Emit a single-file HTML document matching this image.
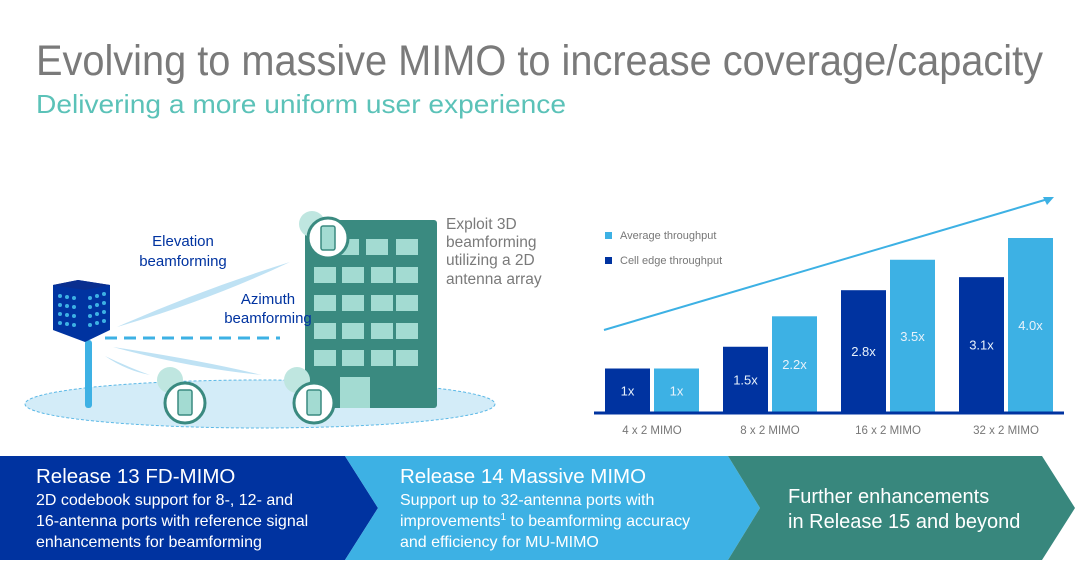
<!DOCTYPE html>
<html><head><meta charset="utf-8"><style>
html,body{margin:0;padding:0;background:#fff;}
svg{display:block;font-family:"Liberation Sans",Arial,sans-serif;}
</style></head><body>
<svg width="1091" height="581" viewBox="0 0 1091 581">
<text x="36" y="75" font-size="43" fill="#7a7a7a" textLength="1007" lengthAdjust="spacingAndGlyphs">Evolving to massive MIMO to increase coverage/capacity</text>
<text x="36" y="113" font-size="26" fill="#5bc2b8" textLength="530" lengthAdjust="spacingAndGlyphs">Delivering a more uniform user experience</text>

<g>
<ellipse cx="260" cy="404" rx="235" ry="24" fill="#d3ecf8" stroke="#5bb8e6" stroke-dasharray="3,2"/>
<rect x="85" y="340" width="7" height="68" fill="#3db1e4" rx="3"/>
<polygon points="53,285 78,280 110,285 110,330 85,342 53,330" fill="#0033a0"/>
<polygon points="53,285 78,280 110,285 85,290" fill="#0a2f8f"/>
<g fill="#3db1e4">
<circle cx="60" cy="296" r="2"/><circle cx="67" cy="297" r="2"/><circle cx="74" cy="298" r="2"/><circle cx="60" cy="305" r="2"/><circle cx="67" cy="306" r="2"/><circle cx="74" cy="307" r="2"/><circle cx="60" cy="314" r="2"/><circle cx="67" cy="315" r="2"/><circle cx="74" cy="316" r="2"/><circle cx="60" cy="323" r="2"/><circle cx="67" cy="324" r="2"/><circle cx="74" cy="325" r="2"/>
<circle cx="90" cy="298" r="2"/><circle cx="97" cy="296" r="2"/><circle cx="104" cy="294" r="2"/><circle cx="90" cy="307" r="2"/><circle cx="97" cy="305" r="2"/><circle cx="104" cy="303" r="2"/><circle cx="90" cy="316" r="2"/><circle cx="97" cy="314" r="2"/><circle cx="104" cy="312" r="2"/><circle cx="90" cy="325" r="2"/><circle cx="97" cy="323" r="2"/><circle cx="104" cy="321" r="2"/>
</g>
<path d="M117,327 Q200,290 290,262 Q210,300 117,327Z" fill="#bfe2f4"/>
<path d="M113,347 Q200,360 262,375 Q190,368 113,347Z" fill="#bfe2f4"/>
<path d="M105,356 Q130,368 150,375 Q125,370 105,356Z" fill="#bfe2f4"/>
<line x1="105" y1="338" x2="280" y2="338" stroke="#3db1e4" stroke-width="3" stroke-dasharray="12,7"/>
<rect x="305" y="220" width="132" height="188" rx="3" fill="#3a8a80"/>
<g fill="#a3dbd2">
<rect x="337" y="239" width="22" height="16"/><rect x="366" y="239" width="22" height="16"/><rect x="396" y="239" width="22" height="16"/>
<rect x="314" y="267" width="22" height="16"/><rect x="342" y="267" width="22" height="16"/><rect x="371" y="267" width="22" height="16"/><rect x="396" y="267" width="22" height="16"/>
<rect x="314" y="295" width="22" height="16"/><rect x="342" y="295" width="22" height="16"/><rect x="371" y="295" width="22" height="16"/><rect x="396" y="295" width="22" height="16"/>
<rect x="314" y="323" width="22" height="16"/><rect x="342" y="323" width="22" height="16"/><rect x="371" y="323" width="22" height="16"/><rect x="396" y="323" width="22" height="16"/>
<rect x="314" y="350" width="22" height="16"/><rect x="342" y="350" width="22" height="16"/><rect x="371" y="350" width="22" height="16"/><rect x="396" y="350" width="22" height="16"/>
<rect x="340" y="377" width="30" height="31"/>
</g>
<g><circle cx="312" cy="224" r="13" fill="#bfe6e0"/><circle cx="328" cy="238" r="20" fill="#fff" stroke="#3a8a80" stroke-width="3"/><rect x="321" y="226" width="14" height="24" rx="2" fill="#a3dbd2" stroke="#3a8a80" stroke-width="1.5"/></g>
<g><circle cx="170" cy="380" r="13" fill="#bfe6e0"/><circle cx="185" cy="403" r="20" fill="#fff" stroke="#3a8a80" stroke-width="3"/><rect x="178" y="390" width="14" height="25" rx="2" fill="#a3dbd2" stroke="#3a8a80" stroke-width="1.5"/></g>
<g><circle cx="297" cy="380" r="13" fill="#bfe6e0"/><circle cx="314" cy="403" r="20" fill="#fff" stroke="#3a8a80" stroke-width="3"/><rect x="307" y="390" width="14" height="25" rx="2" fill="#a3dbd2" stroke="#3a8a80" stroke-width="1.5"/></g>
<text x="183" y="246" font-size="15" fill="#0033a0" text-anchor="middle">Elevation</text>
<text x="183" y="266" font-size="15" fill="#0033a0" text-anchor="middle">beamforming</text>
<text x="268" y="304" font-size="15" fill="#0033a0" text-anchor="middle">Azimuth</text>
<text x="268" y="323" font-size="15" fill="#0033a0" text-anchor="middle">beamforming</text>
<g font-size="15.5" fill="#7a7a7a">
<text x="446" y="229">Exploit 3D</text><text x="446" y="247">beamforming</text><text x="446" y="265">utilizing a 2D</text><text x="446" y="284">antenna array</text>
</g>
</g>

<g id="chart">
<line x1="604" y1="330" x2="1048" y2="199" stroke="#3db1e4" stroke-width="2"/>
<polygon points="1054,197 1043,197 1047,205" fill="#3db1e4"/>
<rect x="605" y="232" width="7" height="7" fill="#3db1e4"/>
<text x="620" y="239" font-size="11" fill="#777">Average throughput</text>
<rect x="605" y="257" width="7" height="7" fill="#0033a0"/>
<text x="620" y="264" font-size="11" fill="#777">Cell edge throughput</text>
<g id="bars"></g>
<line x1="594" y1="413" x2="1064" y2="413" stroke="#0033a0" stroke-width="3"/>
</g>

<g>
<polygon points="0,456 345,456 378,508 345,560 0,560" fill="#0033a0"/>
<polygon points="345,456 728,456 760,508 728,560 345,560 378,508" fill="#3db1e4"/>
<polygon points="728,456 1042,456 1075,508 1042,560 728,560 760,508" fill="#38877d"/>
<text x="36" y="483" font-size="20.5" fill="#fff">Release 13 FD-MIMO</text>
<g font-size="16" fill="#fff"><text x="36" y="505">2D codebook support for 8-, 12- and</text><text x="36" y="526">16-antenna ports with reference signal</text><text x="36" y="547">enhancements for beamforming</text></g>
<text x="400" y="483" font-size="20.5" fill="#fff">Release 14 Massive MIMO</text>
<g font-size="16" fill="#fff"><text x="400" y="505">Support up to 32-antenna ports with</text><text x="400" y="526">improvements<tspan font-size="10" dy="-6">1</tspan><tspan dy="6"> to beamforming accuracy</tspan></text><text x="400" y="547">and efficiency for MU-MIMO</text></g>
<g font-size="20" fill="#fff"><text x="788" y="503">Further enhancements</text><text x="788" y="528">in Release 15 and beyond</text></g>
</g>
</svg>
<script>
const categories = ["4 x 2 MIMO","8 x 2 MIMO","16 x 2 MIMO","32 x 2 MIMO"];
const edgeValues = [1, 1.5, 2.8, 3.1];
const avgValues = [1, 2.2, 3.5, 4.0];
const edgeLabels = ["1x","1.5x","2.8x","3.1x"];
const avgLabels = ["1x","2.2x","3.5x","4.0x"];
const NS="http://www.w3.org/2000/svg";
const g=document.getElementById('bars');
const base=412, unit=43.5, x0=605, step=118, bw=45, gap=49;
function yScale(v){return base - v*unit;}
function xPos(i){return x0 + i*step;}
function mk(tag,attrs){const e=document.createElementNS(NS,tag);for(const k in attrs)e.setAttribute(k,attrs[k]);g.appendChild(e);return e;}
categories.forEach((c,i)=>{
  [[edgeValues[i],edgeLabels[i],'#0033a0',0,'edge'],[avgValues[i],avgLabels[i],'#3db1e4',gap,'avg']].forEach(([v,l,col,off,s])=>{
    const x=xPos(i)+off, y=yScale(v);
    const r=mk('rect',{x:x,y:y,width:bw,height:base-y,fill:col});
    
    
    const t=mk('text',{x:x+bw/2,y:(y+base)/2+5,'font-size':13,fill:'#e8f2fb','text-anchor':'middle'});
    t.textContent=l;
    
    
  });
  const lt=mk('text',{x:xPos(i)+(bw+gap)/2,y:434,'font-size':11.5,fill:'#777','text-anchor':'middle'});
  lt.textContent=c;
  
  
});
</script>
</body></html>
